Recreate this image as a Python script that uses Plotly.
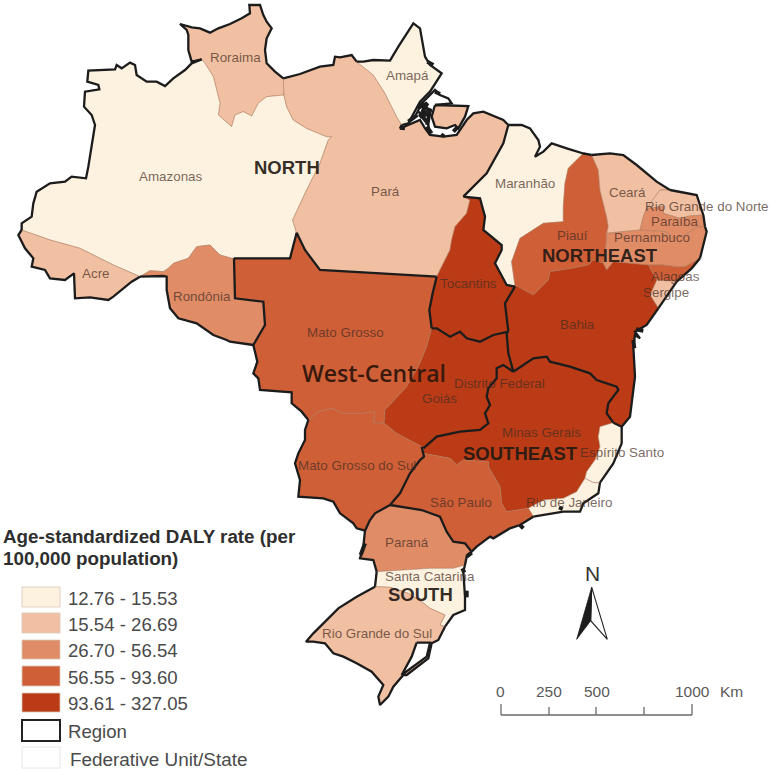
import plotly.graph_objects as go

def crop(ox, oy):
    return lambda *pts: [(ox + x / 3, oy + y / 3) for x, y in pts]
z1, z2, z3, z4, z5, z6 = crop(0, 0), crop(340, 0), crop(500, 140), crop(230, 230), crop(400, 290), crop(290, 500)
def rev(seg):
    return seg[::-1]

# ---- boundary arcs ----
rr_n = z1((605,178),(575,185),(565,150),(565,105),(560,90),(540,72),(575,82),(600,85),(630,98),(655,85),(690,72),(725,55),(750,40),(748,15),(780,15),(790,45),(800,65),(815,85),(800,115),(795,150),(800,190),(825,215),(850,235))
rr_pa = z1((850,235),(852,285))
rr_am = z1((605,178),(615,190),(640,230),(650,270),(660,310),(655,345),(695,380),(705,345),(730,335),(755,348),(775,310),(800,290),(852,285))
am_pa = z1((852,285),(860,320),(880,360),(920,385),(980,410),(995,410),(985,420),(960,490),(920,570),(878,660),(890,700))
am_n = z1((605,178),(575,190),(555,210),(520,235),(495,258),(470,245),(440,245),(410,225),(405,195),(390,188),(365,205),(350,195),(345,208),(265,212),(262,245),(295,255),(298,268),(255,275),(252,320),(275,345),(285,375),(275,440),(265,500),(258,535),(215,530),(195,545),(150,550),(110,575),(100,610),(95,650),(65,670),(65,690))
am_ac = z1((65,690),(150,720),(240,745),(290,770),(340,795),(420,830))
ac_out = z1((65,690),(55,705),(75,745),(100,775),(95,800),(135,810),(150,835),(195,840),(222,820),(225,895),(270,892),(325,900),(340,890),(365,870),(395,845),(420,830))
am_ro = z1((420,830),(450,812),(490,815),(505,805),(520,790),(565,775),(590,740),(630,735),(660,765),(695,775),(705,775))
ro_s = z1((420,830),(490,828),(500,830),(500,870),(510,925),(535,955),(590,970),(640,1005),(680,1020)) + z4((0,335),(70,345))
ro_mt = z4((70,345),(105,285),(100,215),(15,205),(12,85))
am_mt = z4((12,85),(180,85),(200,8))
pa_mt = z4((200,8),(225,60),(270,120),(620,140))
pa_to = z4((620,140),(660,60)) + z2((335,720),(345,680),(380,640),(390,600),(370,590))
to_ma = z2((370,590),(420,595),(435,650),(430,690),(485,735)) + z4((815,60),(795,100),(830,165),(855,170))
to_ba = z4((855,170),(825,220),(835,305))
to_go = z4((835,305),(790,315),(750,335),(710,325),(690,305),(660,320),(620,295),(605,295))
to_mt = z4((605,295),(598,240),(608,190),(620,140))
mt_go = z4((605,295),(590,350),(570,400),(530,470),(465,540),(462,580))
mt_ms = z4((462,580),(430,578),(435,545),(400,550),(340,550),(305,535),(265,545),(235,570))
mt_w = z4((235,570),(215,545),(185,520),(185,487),(90,480),(85,445),(70,430),(82,395),(70,345))
ms_s = z4((235,570),(225,600),(225,630),(205,670),(195,700),(210,750),(205,800),(280,805),(310,815),(330,850),(370,880)) + z6((200,85),(225,92))
go_ms = z4((462,580),(500,610),(575,650))
ms_sp = z4((575,650),(582,680)) + z5((60,510),(30,550),(0,610)) + z6((300,15))
ms_pr = z6((300,15),(255,40),(240,60),(225,92))
go_mg = z5((70,475),(110,440),(180,425),(240,420),(265,400),(255,370),(270,345),(260,320),(265,295),(290,265),(290,235),(310,225),(340,245))
go_ba = z5((325,125),(320,130),(325,190),(340,245))
mg_ba = z5((340,245),(400,205),(440,200),(450,215),(510,230),(570,250),(590,270),(650,290),(655,300),(625,340),(620,370),(640,398))
es_ba = z5((640,398),(665,410))
mg_es = z5((640,398),(600,410),(595,440),(600,470),(585,510),(560,545),(555,565))
es_rj = z5((555,565),(580,578),(600,578))
mg_rj = z5((555,565),(530,605),(490,625),(430,630),(385,655))
sp_mg = z5((70,475),(70,490),(150,505),(170,525),(190,510),(265,515),(265,530),(300,590),(305,640),(320,665),(385,655))
sp_rj = z5((385,655),(400,680))
es_coast = z5((665,410),(665,460),(640,520),(600,578))
rj_coast = z5((600,578),(595,610),(550,640),(540,665),(490,665),(430,675),(400,680))
sp_coast = z5((400,680),(360,705),(330,715),(280,745)) + z6((600,110),(560,140),(545,155))
sp_pr = z6((545,155),(525,130),(490,125),(470,95),(450,50),(395,30),(300,15))
pr_coast = z6((545,155),(530,170),(525,195))
pr_sc = z6((260,215),(350,210),(420,205),(490,205),(525,195))
pr_w = z6((225,92),(220,140),(210,175),(250,180),(260,215))
sc_w = z6((260,215),(255,260))
sc_coast = z6((525,195),(520,215),(525,290),(525,330),(490,345),(465,380))
sc_rs = z6((255,260),(300,262),(355,280),(395,305),(420,325),(465,345),(450,375),(465,380))
rs_coast = z6((465,380),(445,420),(425,430),(415,475),(350,525),(340,525),(310,560),(295,590),(270,615),(265,590),(280,555),(245,515),(200,490),(160,470),(130,460),(105,430),(70,425),(48,425),(70,400),(105,365),(145,325),(200,290),(255,260))
lagoon = z6((380,428),(420,428),(410,470),(345,520),(335,525),(365,470),(380,428))
pa_n = z1((850,235),(900,222),(960,200),(1000,195),(1005,170)) + z2((0,172),(35,165),(50,185))
ap_n = z2((50,185),(70,185),(100,180),(150,182),(175,140),(220,70),(240,85),(255,170),(270,195),(305,220),(270,275),(240,305),(205,370),(185,375))
pa_ap = z2((50,185),(100,225),(135,280),(170,350),(185,375))
pa_coast = z2((185,375),(180,385),(240,360),(255,385),(270,405),(310,410),(350,405),(380,360),(400,340),(430,335),(490,360),(505,375))
pa_ma = z2((370,590),(440,520),(490,430),(505,375))
ma_coast = z2((505,375),(545,375),(570,385),(595,420),(600,440),(585,470),(610,455),(635,430),(680,445),(735,462))
ma_pi = z3((250,40),(205,85),(195,130),(190,200),(190,245),(130,250),(60,295),(35,365),(45,435))
pi_top = z3((250,40),(275,45))
pi_ce = z3((275,45),(295,90),(300,150),(320,230),(325,260),(320,280))
pi_pe = z3((320,280),(320,300),(310,370))
ba_pi = z3((45,435),(100,465),(145,420),(150,395),(215,385),(265,375),(280,360),(310,370))
pe_ba = z3((310,370),(320,390),(340,365),(445,375))
al_ba = z3((445,375),(470,420))
se_ba = z3((470,420),(450,465),(475,505))
ba_coast = z3((475,505),(440,555),(405,575),(420,595),(405,585)) + z5((700,170),(705,260),(690,380),(665,410))
ce_coast = z3((275,45),(330,40),(370,45),(410,75),(470,125),(510,150))
ce_rn = z3((510,150),(480,150),(465,170),(440,205))
ce_pb = z3((440,205),(430,230),(420,270))
ce_pe = z3((420,270),(365,275),(320,280))
rn_coast = z3((510,150),(590,165),(610,225))
rn_pb = z3((610,225),(570,228),(540,235),(490,220),(490,200),(440,205))
pb_coast = z3((610,225),(615,260))
pb_pe = z3((615,260),(590,262),(555,285),(525,295),(495,275),(420,270))
pe_coast = z3((615,260),(620,275),(600,355))
pe_al = z3((600,355),(555,380),(530,380),(490,375),(445,375))
al_coast = z3((600,355),(575,385),(530,425))
al_se = z3((530,425),(470,420))
se_coast = z3((530,425),(475,505))
marajo = z2((285,315),(385,318),(375,350),(355,385),(345,375),(320,385),(285,380),(275,350),(285,315))
delta_a = z2((235,320),(255,300),(285,270),(300,285),(325,295),(335,310),(285,315))
delta_b = z2((225,350),(245,310),(265,330),(240,345),(265,375),(270,405))
delta_c = z2((255,345),(275,330),(250,320),(245,350),(260,360),(235,335))
# dense island clusters and small inlets along the coast
blots = [z2((232,325),(262,310),(240,350),(268,340),(262,375)), z2((205,365),(232,345)), z2((180,383),(195,385)),
         z2((262,185),(280,195)), z2((285,275),(300,282)), z2((260,380),(275,400)), z2((305,410),(312,402)), z2((340,395),(352,382)),
         z5((708,118),(730,122)), z5((700,150),(703,175)), z5((360,705),(370,715)), z5((480,660),(485,650)),
         z6((517,205),(523,218)), z6((530,272),(530,292)), z6((530,170),(545,158)), z6((212,165),(225,130))]

# ---- states and rate classes ----
class_colors = ["#fdf1e0", "#f1c0a2", "#e08c67", "#cf5f37", "#ba3b15"]
class_labels = ["12.76 - 15.53", "15.54 - 26.69", "26.70 - 56.54", "56.55 - 93.60", "93.61 - 327.05"]
states = {
    "Roraima": (1, rr_n + rr_pa + rev(rr_am)),
    "Amazonas": (0, am_n + am_ac + am_ro + am_mt + rev(am_pa) + rev(rr_am)),
    "Acre": (1, ac_out + rev(am_ac)),
    "Rondônia": (2, am_ro + rev(ro_mt) + rev(ro_s)),
    "Pará": (1, pa_n + pa_ap + pa_coast[1:] + rev(pa_ma) + rev(pa_to) + rev(pa_mt) + rev(am_pa) + rev(rr_pa)),
    "Marajó": (1, marajo),
    "Amapá": (0, ap_n + rev(pa_ap)),
    "Tocantins": (4, to_ma + to_ba + to_go + to_mt + pa_to),
    "Maranhão": (0, pa_ma + ma_coast + ma_pi + rev(to_ma)),
    "Piauí": (3, pi_top + pi_ce + pi_pe + rev(ba_pi) + rev(ma_pi)),
    "Ceará": (1, ce_coast + ce_rn + ce_pb + ce_pe + rev(pi_ce)),
    "Rio Grande do Norte": (1, rn_coast + rn_pb + rev(ce_rn)),
    "Paraíba": (2, rev(rn_pb) + pb_coast + pb_pe + rev(ce_pb)),
    "Pernambuco": (2, rev(ce_pe) + rev(pb_pe) + pe_coast + pe_al + rev(pe_ba) + rev(pi_pe)),
    "Alagoas": (3, rev(pe_al) + al_coast + al_se + rev(al_ba)),
    "Sergipe": (1, rev(al_se) + se_coast + rev(se_ba)),
    "Bahia": (4, ba_pi + pe_ba + al_ba + se_ba + ba_coast + rev(es_ba) + rev(mg_ba) + rev(go_ba) + rev(to_ba)),
    "Mato Grosso": (3, am_mt + pa_mt + rev(to_mt) + mt_go + mt_ms + mt_w + ro_mt),
    "Goiás": (4, rev(to_go) + go_ba + rev(go_mg) + rev(go_ms) + rev(mt_go)),
    "Mato Grosso do Sul": (3, rev(mt_ms) + go_ms + ms_sp + ms_pr + rev(ms_s)),
    "Minas Gerais": (4, mg_ba + mg_es + mg_rj + rev(sp_mg) + go_mg),
    "Espírito Santo": (0, es_ba + es_coast + rev(es_rj) + rev(mg_es)),
    "Rio de Janeiro": (0, es_rj + rj_coast + rev(sp_rj) + rev(mg_rj)),
    "São Paulo": (3, sp_mg + sp_rj + sp_coast + sp_pr + rev(ms_sp)),
    "Paraná": (2, rev(sp_pr) + pr_coast + rev(pr_sc) + rev(pr_w) + rev(ms_pr)),
    "Santa Catarina": (0, pr_sc + sc_coast + rev(sc_rs) + rev(sc_w)),
    "Rio Grande do Sul": (1, sc_rs + rs_coast),
}
region_lines = [rr_n, am_n, ac_out, ro_s, ro_mt, am_mt, pa_mt, pa_n, ap_n, pa_coast, pa_ma, to_ma, ma_coast, to_ba,
                to_go, to_mt, mt_w, ms_s, ms_sp, ms_pr, go_mg, go_ba, mg_ba, es_ba, es_coast, rj_coast, sp_coast,
                sp_pr, pr_coast, sc_coast, pr_w, sc_w, rs_coast, ba_coast, se_coast, al_coast, pe_coast, pb_coast,
                rn_coast, ce_coast, pi_top, marajo, delta_a, delta_b, delta_c, lagoon]

state_labels = [("Roraima",235,57),("Amazonas",171,176),("Acre",96,273),("Rondônia",202,296),("Pará",385,191),
    ("Amapá",407,75),("Maranhão",525,183),("Piauí",572,235),("Ceará",627,192),("Rio Grande do Norte",707,206),
    ("Paraíba",674,221),("Pernambuco",652,237),("Alagoas",675,276),("Sergipe",666,292),("Tocantins",468,283),
    ("Bahia",577,324),("Mato Grosso",345,332),("Goiás",439,398),("Distrito Federal",499,383),("Minas Gerais",541,432),
    ("Espírito Santo",622,452),("Mato Grosso do Sul",357,465),("São Paulo",461,502),("Rio de Janeiro",569,502),
    ("Paraná",407,542),("Santa Catarina",430,576),("Rio Grande do Sul",377,633)]
region_labels = [("NORTH",287,167),("NORTHEAST",600,255),("SOUTHEAST",520,453),("SOUTH",420,594)]
scale_labels = [("0",500.5),("250",548.5),("500",596.5),("1000",692.5),("Km",731.5)]
scale_ticks = [("0",501),("250",549),("500",596),("750",644),("1000",692)]

fig = go.Figure()
for name, (cls, ring) in states.items():
    xs = [p[0] for p in ring]; ys = [p[1] for p in ring]
    fig.add_trace(go.Scatter(x=xs, y=ys, mode="lines", fill="toself", fillcolor=class_colors[cls],
                             line=dict(color="rgba(170,120,90,0.75)", width=0.7), hoverinfo="text", text=name, showlegend=False))
# lagoon
fig.add_trace(go.Scatter(x=[p[0] for p in lagoon], y=[p[1] for p in lagoon], mode="lines", fill="toself",
                         fillcolor="white", line=dict(width=0), hoverinfo="skip", showlegend=False))
bx, by = [], []
for seg in region_lines:
    bx += [p[0] for p in seg] + [None]
    by += [p[1] for p in seg] + [None]
fig.add_trace(go.Scatter(x=bx, y=by, mode="lines", line=dict(color="#1c1c1c", width=2.3), hoverinfo="skip", showlegend=False))
bx, by = [], []
for seg in blots:
    bx += [p[0] for p in seg] + [None]
    by += [p[1] for p in seg] + [None]
fig.add_trace(go.Scatter(x=bx, y=by, mode="lines", line=dict(color="#1c1c1c", width=4), hoverinfo="skip", showlegend=False))

# north arrow
arrow_l = [(591.7,587.3),(576.7,639.3),(590.7,620.7),(591.7,587.3)]
arrow_r = [(591.7,587.3),(607.3,639.3),(590.7,620.7),(591.7,587.3)]
fig.add_trace(go.Scatter(x=[p[0] for p in arrow_r], y=[p[1] for p in arrow_r], mode="lines", fill="toself", fillcolor="white",
                         line=dict(color="#222", width=1.1), hoverinfo="skip", showlegend=False))
fig.add_trace(go.Scatter(x=[p[0] for p in arrow_l], y=[p[1] for p in arrow_l], mode="lines", fill="toself", fillcolor="#1c1c1c",
                         line=dict(color="#1c1c1c", width=0.8), hoverinfo="skip", showlegend=False))
# scale bar
sx, sy = [501, 692, None], [715, 715, None]
for i, (lab, tx) in enumerate(scale_ticks):
    top = 704 if lab in ("0", "1000") else 707
    sx += [tx, tx, None]; sy += [top, 715, None]
fig.add_trace(go.Scatter(x=sx, y=sy, mode="lines", line=dict(color="#6a6a6a", width=1.3), hoverinfo="skip", showlegend=False))

ann = []
def T(text, x, y, size, color, anchor="center", bold=False, family="Liberation Sans"):
    ann.append(dict(text=f"<b>{text}</b>" if bold else text, x=x, y=y, xref="x", yref="y", showarrow=False, xanchor=anchor,
                    yanchor="middle", font=dict(family=family, size=size, color=color)))
for n, x, y in state_labels:
    T(n, x, y, 13.4, "rgba(70,45,35,0.72)")
for n, x, y in region_labels:
    T(n, x, y, 18.5, "rgba(35,25,20,0.92)", bold=True)
ann.append(dict(text="West-Central", x=374, y=373, xref="x", yref="y", showarrow=False, xanchor="center", yanchor="middle",
                font=dict(family="Open Sans", size=23, color="#38190d", weight=600)))
T("Age-standardized DALY rate (per", 1, 536.5, 18.8, "#2e2e2e", "left", True)
T("100,000 population)", 1, 558.5, 18.8, "#2e2e2e", "left", True)
shapes = []
leg_y = [(587,607),(613,633),(640,659),(666,686),(693,712)]
for (y0, y1), c, lab in zip(leg_y, class_colors, class_labels):
    shapes.append(dict(type="rect", x0=22, x1=60, y0=y0, y1=y1, xref="x", yref="y", fillcolor=c, line=dict(color="#d8c8b8", width=0.8)))
    T(lab, 66, (y0 + y1) / 2 + 1, 18.6, "#4a4a4a", "left")
shapes.append(dict(type="rect", x0=22, x1=60, y0=720, y1=741, xref="x", yref="y", fillcolor="white", line=dict(color="#222", width=2)))
shapes.append(dict(type="rect", x0=22, x1=60, y0=747, y1=768, xref="x", yref="y", fillcolor="white", line=dict(color="#e6e6e6", width=1)))
T("Region", 66, 731, 18.6, "#4a4a4a", "left")
T("Federative Unit/State", 68, 759, 18.9, "#4a4a4a", "left")
T("N", 592, 573, 21, "#333")
for lab, x in scale_labels:
    T(lab, x, 691, 15.5, "#5a5a5a")

fig.update_layout(width=771, height=769, margin=dict(l=0, r=0, t=0, b=0), paper_bgcolor="white", plot_bgcolor="white",
                  xaxis=dict(range=[0, 771], visible=False, fixedrange=True),
                  yaxis=dict(range=[769, 0], visible=False, fixedrange=True),
                  annotations=ann, shapes=shapes, showlegend=False)
fig.write_html("out.html", post_script="document.body.style.margin='0';document.body.style.overflow='hidden';", config=dict(displayModeBar=False))
